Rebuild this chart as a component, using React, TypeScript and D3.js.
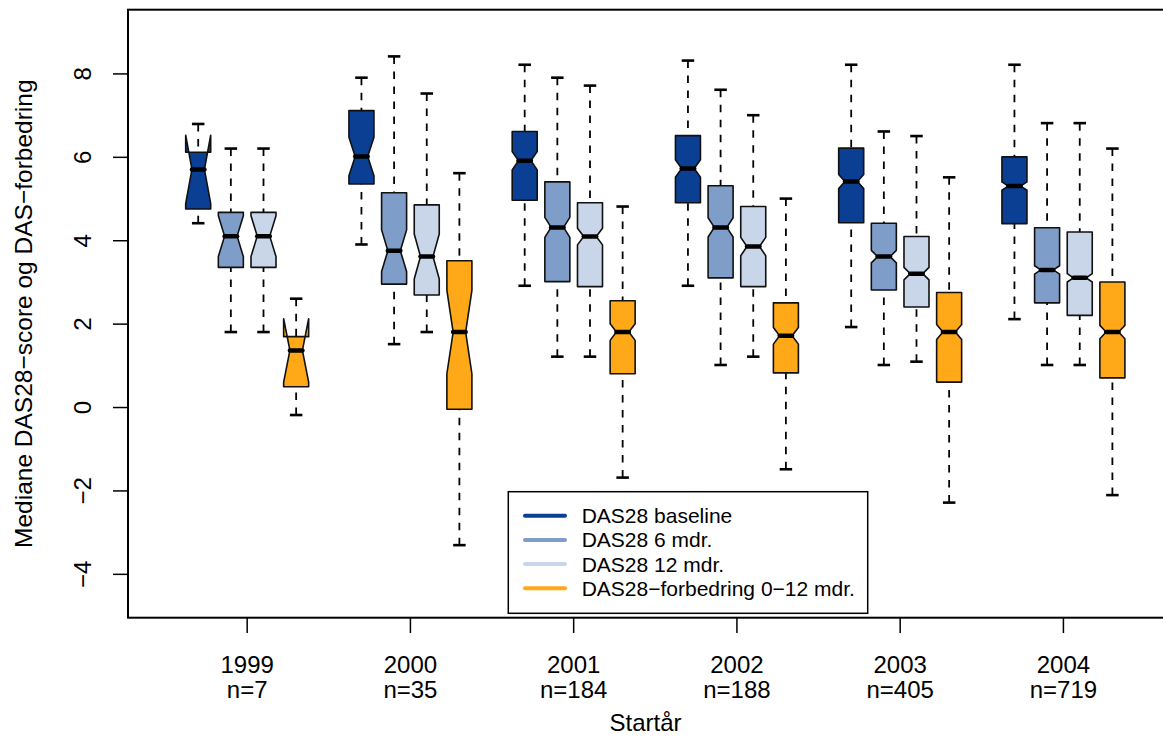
import * as d3 from "d3";
import { useEffect, useRef } from "react";

const years = ["1999", "2000", "2001", "2002", "2003", "2004"];
const nLabels = ["n=7", "n=35", "n=184", "n=188", "n=405", "n=719"];
const seriesNames = [
  "DAS28 baseline",
  "DAS28 6 mdr.",
  "DAS28 12 mdr.",
  "DAS28\u2212forbedring 0\u221212 mdr.",
];
const seriesColors = ["#0A3F94", "#7F9DC9", "#C9D5E8", "#FFA818"];

// [nedre whisker, Q1, median, Q3, øvre whisker] per år
const baseline = [
  [4.42, 4.76, 5.71, 6.12, 6.8],
  [3.91, 5.36, 6.02, 7.12, 7.91],
  [2.92, 4.97, 5.92, 6.62, 8.22],
  [2.92, 4.91, 5.73, 6.52, 8.32],
  [1.93, 4.43, 5.42, 6.22, 8.22],
  [2.12, 4.41, 5.31, 6.01, 8.22],
];
const mdr6 = [
  [1.81, 3.36, 4.11, 4.68, 6.21],
  [1.52, 2.96, 3.76, 5.15, 8.42],
  [1.22, 3.02, 4.32, 5.41, 7.91],
  [1.02, 3.11, 4.32, 5.32, 7.62],
  [1.02, 2.82, 3.62, 4.42, 6.62],
  [1.02, 2.51, 3.3, 4.31, 6.82],
];
const mdr12 = [
  [1.81, 3.36, 4.11, 4.68, 6.21],
  [1.81, 2.7, 3.62, 4.86, 7.53],
  [1.22, 2.9, 4.1, 4.91, 7.72],
  [1.22, 2.9, 3.86, 4.82, 7.01],
  [1.1, 2.41, 3.21, 4.1, 6.51],
  [1.02, 2.21, 3.11, 4.21, 6.82],
];
const forbedring = [
  [-0.18, 0.5, 1.37, 1.7, 2.61],
  [-3.3, -0.04, 1.81, 3.52, 5.62],
  [-1.68, 0.81, 1.81, 2.56, 4.82],
  [-1.48, 0.83, 1.72, 2.51, 5.01],
  [-2.28, 0.61, 1.81, 2.76, 5.52],
  [-2.1, 0.71, 1.81, 3.01, 6.21],
];

// notch halvlengde (median +/-)
const notchBaseline = [0.82, 0.46, 0.22, 0.21, 0.17, 0.1];
const notch6 = [0.49, 0.5, 0.24, 0.23, 0.15, 0.1];
const notch12 = [0.49, 0.54, 0.2, 0.22, 0.15, 0.1];
const notchForb = [0.76, 1.0, 0.2, 0.2, 0.18, 0.16];

const yTicks = [-4, -2, 0, 2, 4, 6, 8];
const yLim = [-4.5, 9];

const allSeries = [baseline, mdr6, mdr12, forbedring];
const allNotches = [notchBaseline, notch6, notch12, notchForb];

const font = "'Liberation Sans', Arial, Helvetica, sans-serif";

export default function App() {
  const ref = useRef<SVGSVGElement>(null);

  useEffect(() => {
    const W = 1163;
    const H = 738;
    const left = 128;
    const right = 1163;
    const top = 9.7;
    const bottom = 617.7;

    const svg = d3.select(ref.current);
    svg.selectAll("*").remove();

    const pad = (yLim[1] - yLim[0]) * 0.04;
    const y = d3
      .scaleLinear()
      .domain([yLim[0] - pad, yLim[1] + pad])
      .range([bottom, top]);
    const x = d3.scaleLinear().domain([-1.15, 30.55]).range([left, right]);
    const w = x(0.383) - x(0); // halv boksbredde

    svg.append("rect").attr("width", W).attr("height", H).attr("fill", "white");

    const g = svg.append("g");

    //bokser
    allSeries.forEach((series, s) => {
      series.forEach((st, gi) => {
        const pos = gi * 5 + s + 1;
        const cx = x(pos);
        const [lo, q1, med, q3, hi] = st;
        const nt = allNotches[s][gi];
        const c1 = med - nt;
        const c2 = med + nt;

        // whiskers
        g.append("line")
          .attr("x1", cx)
          .attr("x2", cx)
          .attr("y1", y(hi))
          .attr("y2", y(q3))
          .attr("stroke", "black")
          .attr("stroke-width", 1.8)
          .attr("stroke-dasharray", "7.5,7.5");
        g.append("line")
          .attr("x1", cx)
          .attr("x2", cx)
          .attr("y1", y(lo))
          .attr("y2", y(q1))
          .attr("stroke", "black")
          .attr("stroke-width", 1.8)
          .attr("stroke-dasharray", "7.5,7.5");
        [lo, hi].forEach((v) => {
          g.append("line")
            .attr("x1", cx - w / 2)
            .attr("x2", cx + w / 2)
            .attr("y1", y(v))
            .attr("y2", y(v))
            .attr("stroke", "black")
            .attr("stroke-width", 2.6);
        });

        const pts: [number, number][] = [
          [cx - w, y(q1)],
          [cx + w, y(q1)],
          [cx + w, y(c1)],
          [cx + w / 2, y(med)],
          [cx + w, y(c2)],
          [cx + w, y(q3)],
          [cx - w, y(q3)],
          [cx - w, y(c2)],
          [cx - w / 2, y(med)],
          [cx - w, y(c1)],
        ];
        g.append("polygon")
          .attr("points", pts.map((p) => p.join(",")).join(" "))
          .attr("fill", seriesColors[s])
          .attr("stroke", "#111")
          .attr("stroke-width", 1.6)
          .attr("stroke-linejoin", "round");

        g.append("line")
          .attr("x1", cx - w / 2)
          .attr("x2", cx + w / 2)
          .attr("y1", y(med))
          .attr("y2", y(med))
          .attr("stroke", "black")
          .attr("stroke-width", 4.5)
          .attr("stroke-linecap", "round");
      });
    });

    // ramme
    svg
      .append("rect")
      .attr("x", left)
      .attr("y", top)
      .attr("width", right + 2 - left)
      .attr("height", bottom - top)
      .attr("fill", "none")
      .attr("stroke", "black")
      .attr("stroke-width", 2);

    //Y akse
    const yAxis = svg.append("g").attr("font-family", font);
    yTicks.forEach((t) => {
      yAxis
        .append("line")
        .attr("x1", 113)
        .attr("x2", left)
        .attr("y1", y(t))
        .attr("y2", y(t))
        .attr("stroke", "black")
        .attr("stroke-width", 1.5);
      yAxis
        .append("text")
        .attr("transform", `translate(91, ${y(t)}) rotate(-90)`)
        .attr("text-anchor", "middle")
        .attr("font-size", 24)
        .text(d3.format("")(t).replace("-", "\u2212"));
    });
    yAxis
      .append("text")
      .attr("transform", `translate(32, ${(top + bottom) / 2}) rotate(-90)`)
      .attr("text-anchor", "middle")
      .attr("font-size", 24.5)
      .text("Mediane DAS28\u2212score og DAS\u2212forbedring");

    //X akse
    const xAxis = svg.append("g").attr("font-family", font);
    years.forEach((yr, i) => {
      const cx = x(i * 5 + 2.5);
      xAxis
        .append("line")
        .attr("x1", cx)
        .attr("x2", cx)
        .attr("y1", bottom)
        .attr("y2", 633)
        .attr("stroke", "black")
        .attr("stroke-width", 1.5);
      xAxis
        .append("text")
        .attr("x", cx)
        .attr("y", 673)
        .attr("text-anchor", "middle")
        .attr("font-size", 24)
        .text(yr);
      xAxis
        .append("text")
        .attr("x", cx)
        .attr("y", 698)
        .attr("text-anchor", "middle")
        .attr("font-size", 24)
        .text(nLabels[i]);
    });
    xAxis
      .append("text")
      .attr("x", (left + right) / 2)
      .attr("y", 731)
      .attr("text-anchor", "middle")
      .attr("font-size", 24)
      .text("Start\u00e5r");

    //legend
    const lg = svg.append("g").attr("font-family", font);
    lg.append("rect")
      .attr("x", 508.3)
      .attr("y", 491.7)
      .attr("width", 359.4)
      .attr("height", 121.6)
      .attr("fill", "white")
      .attr("stroke", "black")
      .attr("stroke-width", 1.5);
    seriesNames.forEach((name, i) => {
      const ly = 515.7 + i * 24.2;
      lg.append("line")
        .attr("x1", 525)
        .attr("x2", 565)
        .attr("y1", ly)
        .attr("y2", ly)
        .attr("stroke", seriesColors[i])
        .attr("stroke-width", 4)
        .attr("stroke-linecap", "round");
      lg.append("text")
        .attr("x", 581.7)
        .attr("y", ly)
        .attr("dy", "0.36em")
        .attr("font-size", 21)
        .text(name);
    });
  }, []);

  return (
    <svg
      ref={ref}
      width={1163}
      height={738}
      style={{ position: "absolute", left: 0, top: 0 }}
    />
  );
}
